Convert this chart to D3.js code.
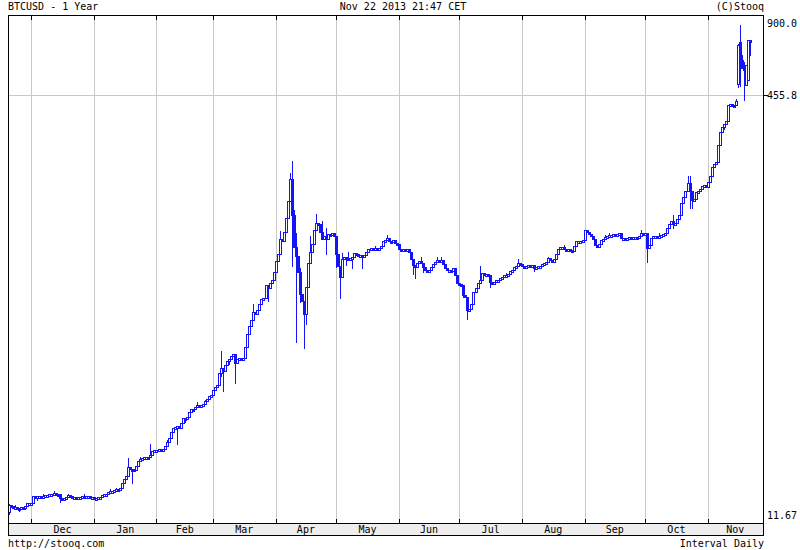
<!DOCTYPE html>
<html><head><meta charset="utf-8">
<script src="https://cdn.jsdelivr.net/npm/d3@7"></script>
<style>
body{margin:0;background:#fff}
svg{display:block}
text{font-family:"DejaVu Sans Mono",monospace;font-size:10px;fill:#000}
</style>
</head><body>
<svg id="c" width="800" height="550"></svg>
<script>
// ---- data (daily close, BTCUSD) ----
const closeNov12 = [13.6,13.5,13.3,13.4,13.3,13.2,13.4,13.3,13.5,13.8,13.8]; // Nov 20-30
const closeDec12 = [13.9,14.7,14.6,14.7,14.7,14.6,14.7,14.8,14.8,14.9,15.0,15.1,15.0,14.9,14.4,14.3,14.5,14.6,14.8,14.7,14.6,14.6,14.5,14.6,14.6,14.7,14.6,14.7,14.7,14.6,14.6];
const closeJan13 = [14.3,14.5,14.6,14.6,14.8,14.9,15.0,15.2,15.3,15.4,15.5,15.6,15.5,15.8,16.5,17.0,17.5,18.8,18.6,18.5,18.4,19.0,19.9,20.2,20.4,20.5,20.6,20.5,20.8,21.6,21.8];
const closeFeb13 = [21.8,21.9,21.7,22.0,22.6,23.3,24.1,25.5,26.3,26.5,26.8,26.4,27.5,28.6,28.3,28.8,30.2,31.0,30.9,31.5,31.9,31.6,31.9,32.3,33.0,33.8,34.5,35.0];
const closeMar13 = [36.4,37.4,38.0,42.0,44.0,43.0,45.0,46.5,47.5,48.5,49.5,46.0,47.5,48.0,47.5,48.0,52.5,59.0,63.0,66.0,71.0,70.0,72.0,76.0,79.0,80.0,89.0,87.0,91.0,93.0,100.0];
const closeApr13 = [110,117,133,130,141,159,184,222,163,124,115,100,83,78,70,88,108,119,127,143,152,150,141,133,136,132,138,137,140,136];
const closeMay13 = [117,105,96,112,114,113,111,113,114,118,117,115,116,114,116,119,122,123,122,123,122,123,125,130,131,134,130,129,131,128,127];
const closeJun13 = [122,121,122,121,122,119,112,106,104,108,110,108,104,102,101,102,104,107,109,111,109,111,107,103,102,102,101,103,97,91];
const closeJul13 = [90,89,82,81,72,73,76,84,87,91,93,99,98,98,97,92,91,92,93,93,95,96,97,97,98,101,102,104,105,108,107];
const closeAug13 = [105,104,105,106,105,106,103,104,105,105,107,108,109,113,111,109,112,117,122,124,124,122,121,122,121,120,125,130,130,130,131];
const closeSep13 = [143,141,138,136,133,126,124,127,131,133,135,136,137,137,138,137,138,139,134,134,133,134,135,134,135,135,134,136,140,139];
const closeOct13 = [140,123,126,134,136,136,135,136,137,138,139,146,150,154,150,152,157,163,180,190,200,214,200,185,187,198,200,203,208,210,206];
const closeNov13 = [216,228,245,252,257,296,332,346,354,362,417,420,418,417,430,696,612,571,565,587,727,712]; // Nov 1-22

// opens that differ from the previous close
const openGaps = [["2012-11-20",12.8],["2013-11-16",500],["2013-11-17",716],["2013-11-20",495],["2013-11-21",516]];
// visible wicks: [date, high, low]
const wicks = [
 ["2012-11-20",13.7,12.6],["2012-11-23",13.6,null],["2012-11-25",null,12.9],["2012-11-28",null,13.1],["2012-12-04",null,14.2],
 ["2012-12-07",15.0,null],["2012-12-12",15.3,null],["2012-12-15",null,14.0],["2012-12-19",15.0,null],["2012-12-22",null,14.3],
 ["2012-12-27",14.9,null],["2013-01-03",null,14.3],["2013-01-09",15.6,null],["2013-01-12",15.8,null],
 ["2013-01-18",20.4,null],["2013-01-20",null,16.5],["2013-01-24",20.6,null],["2013-01-29",22.9,null],["2013-02-06",23.8,null],
 ["2013-02-11",null,23.0],["2013-02-15",null,27.8],["2013-02-21",32.8,null],["2013-02-25",33.5,null],
 ["2013-03-05",50.8,41.0],["2013-03-06",null,36.0],["2013-03-09",null,45.5],["2013-03-12",null,38.6],["2013-03-21",76,null],["2013-03-28",null,78],
 ["2013-04-03",142,null],["2013-04-08",232,null],["2013-04-09",258,105],["2013-04-10",170,null],["2013-04-11",139,55],
 ["2013-04-13",103,77],["2013-04-15",null,52],["2013-04-16",null,64],["2013-04-18",136,null],["2013-04-21",164,null],
 ["2013-04-24",155,null],["2013-04-26",145,117],["2013-05-01",null,104],["2013-05-03",null,80],["2013-05-04",118,null],
 ["2013-05-06",null,106],["2013-05-07",119,null],["2013-05-09",null,103],["2013-05-14",null,103],["2013-05-20",125,null],["2013-05-26",137,null],
 ["2013-06-08",null,98],["2013-06-09",null,95],["2013-06-12",114,null],["2013-06-13",null,100],["2013-06-20",114,null],
 ["2013-06-22",114,null],["2013-07-03",null,80.9],["2013-07-05",null,66.8],["2013-07-11",105,null],["2013-07-16",null,88],
 ["2013-07-24",99,null],["2013-07-30",112,null],["2013-08-07",null,101],["2013-08-14",114,null],["2013-08-22",126,null],
 ["2013-09-11",137,null],["2013-09-13",140,null],["2013-09-20",null,131],["2013-09-29",143,null],
 ["2013-10-02",null,109],["2013-10-08",139,null],["2013-10-15",162,145],["2013-10-22",227,null],["2013-10-23",227,172],["2013-10-24",null,172],
 ["2013-11-09",null,340],["2013-11-15",437,null],["2013-11-16",700,487],["2013-11-17",826,490],["2013-11-18",640,null],["2013-11-19",600,435],
 ["2013-11-22",727,639]
];

const yTickValues = [900.0, 455.8, 11.67];
const yTickLabels = ["900.0", "455.8", "11.67"];
const monthNames = ["Dec","Jan","Feb","Mar","Apr","May","Jun","Jul","Aug","Sep","Oct","Nov"];
const monthStarts = ["2012-12-01","2013-01-01","2013-02-01","2013-03-01","2013-04-01","2013-05-01","2013-06-01","2013-07-01","2013-08-01","2013-09-01","2013-10-01","2013-11-01","2013-12-01"];

const titleLeft = "BTCUSD - 1 Year";
const titleCenter = "Nov 22 2013 21:47 CET";
const titleRight = "(C)Stooq";
const footLeft = "http://stooq.com";
const footRight = "Interval Daily";

// ---- build OHLC ----
const DAY = 864e5;
const start = Date.UTC(2012,10,20);
const closes = [].concat(closeNov12,closeDec12,closeJan13,closeFeb13,closeMar13,closeApr13,closeMay13,closeJun13,closeJul13,closeAug13,closeSep13,closeOct13,closeNov13);
const key = t => new Date(t).toISOString().slice(0,10);
const wickMap = new Map(wicks.map(w => [w[0], w]));
const openMap = new Map(openGaps);
const data = closes.map((c,i) => {
  const t = start + i*DAY, k = key(t);
  const o = openMap.has(k) ? openMap.get(k) : closes[i-1];
  let h = Math.max(o,c), l = Math.min(o,c);
  const w = wickMap.get(k);
  if (w) { if (w[1] != null) h = Math.max(h, w[1]); if (w[2] != null) l = Math.min(l, w[2]); }
  return {date:new Date(t), o, h, l, c};
});

// ---- layout ----
const L = 8, R = 763, T = 15, B = 523, BB = 535;
const blue = "#1414f5", grid = "#c8c8c8";
const parse = s => new Date(s + "T00:00:00Z");
const x = d3.scaleUtc().domain([parse("2012-12-01"), parse("2013-11-01")]).range([31.3, 707.7]);
const y = d3.scaleLog().domain([11.67, 900]).range([B, T]);

const svg = d3.select("#c");
svg.append("rect").attr("width",800).attr("height",550).attr("fill","#fff");

// axis band
svg.append("rect").attr("x",L).attr("y",B).attr("width",R-L).attr("height",BB-B).attr("fill","#eeeeee");

// gridlines
const gxs = monthStarts.slice(0,12).map(s => Math.round(x(parse(s))) + 0.5);
svg.append("g").selectAll("line").data(gxs).join("line")
  .attr("x1",d=>d).attr("x2",d=>d).attr("y1",T).attr("y2",B)
  .attr("stroke",grid).attr("shape-rendering","crispEdges");
const yMid = Math.round(y(yTickValues[1])) + 0.5;
svg.append("line").attr("x1",L).attr("x2",R).attr("y1",yMid).attr("y2",yMid)
  .attr("stroke",grid).attr("shape-rendering","crispEdges");

// candles
svg.append("clipPath").attr("id","pc").append("rect").attr("x",L+1).attr("y",T+1).attr("width",R-L-1).attr("height",B-T-1);
const gC = svg.append("g").attr("clip-path","url(#pc)");
const cx = d => Math.round(x(d.date));
gC.selectAll("line.w").data(data).join("line").attr("class","w")
  .attr("x1",d=>cx(d)+0.5).attr("x2",d=>cx(d)+0.5)
  .attr("y1",d=>Math.round(y(d.h))).attr("y2",d=>Math.round(y(d.l))+1)
  .attr("stroke",blue).attr("shape-rendering","crispEdges");
gC.selectAll("rect.b").data(data).join("rect").attr("class","b")
  .attr("x",d=>cx(d)-0.5)
  .attr("y",d=>Math.round(y(Math.max(d.o,d.c)))+0.5)
  .attr("width",2)
  .attr("height",d=>Math.max(2, Math.round(y(Math.min(d.o,d.c))) - Math.round(y(Math.max(d.o,d.c)))))
  .attr("fill",d=>d.c >= d.o ? "#fff" : blue)
  .attr("stroke",blue).attr("shape-rendering","crispEdges");

// frame
const frame = svg.append("g").attr("stroke","#000").attr("shape-rendering","crispEdges").attr("fill","none");
frame.append("rect").attr("x",L+0.5).attr("y",T+0.5).attr("width",R-L).attr("height",BB-T);
frame.append("line").attr("x1",L).attr("x2",R+1).attr("y1",B+0.5).attr("y2",B+0.5);
// ticks
gxs.forEach(g => {
  frame.append("line").attr("x1",g).attr("x2",g).attr("y1",T).attr("y2",T+5);
  frame.append("line").attr("x1",g).attr("x2",g).attr("y1",B-4).attr("y2",B);
});
frame.append("line").attr("x1",R).attr("x2",R+5).attr("y1",yMid).attr("y2",yMid);

// y labels
const yLab = [y(yTickValues[0]) + 12, y(yTickValues[1]) + 4, y(yTickValues[2]) - 4];
svg.append("g").selectAll("text").data(yTickLabels).join("text")
  .attr("x",767).attr("y",(d,i)=>yLab[i]).text(d=>d);

// month labels
const mEdges = monthStarts.map(s => Math.min(R, x(parse(s))));
svg.append("g").selectAll("text").data(monthNames).join("text")
  .attr("x",(d,i)=>(mEdges[i]+mEdges[i+1])/2).attr("y",533)
  .attr("text-anchor","middle").text(d=>d);

// titles
svg.append("text").attr("x",L).attr("y",10).text(titleLeft);
svg.append("text").attr("x",403).attr("y",10).attr("text-anchor","middle").text(titleCenter);
svg.append("text").attr("x",R+1).attr("y",10).attr("text-anchor","end").text(titleRight);
svg.append("text").attr("x",L).attr("y",547).text(footLeft);
svg.append("text").attr("x",R+1).attr("y",547).attr("text-anchor","end").text(footRight);
</script>
</body></html>
